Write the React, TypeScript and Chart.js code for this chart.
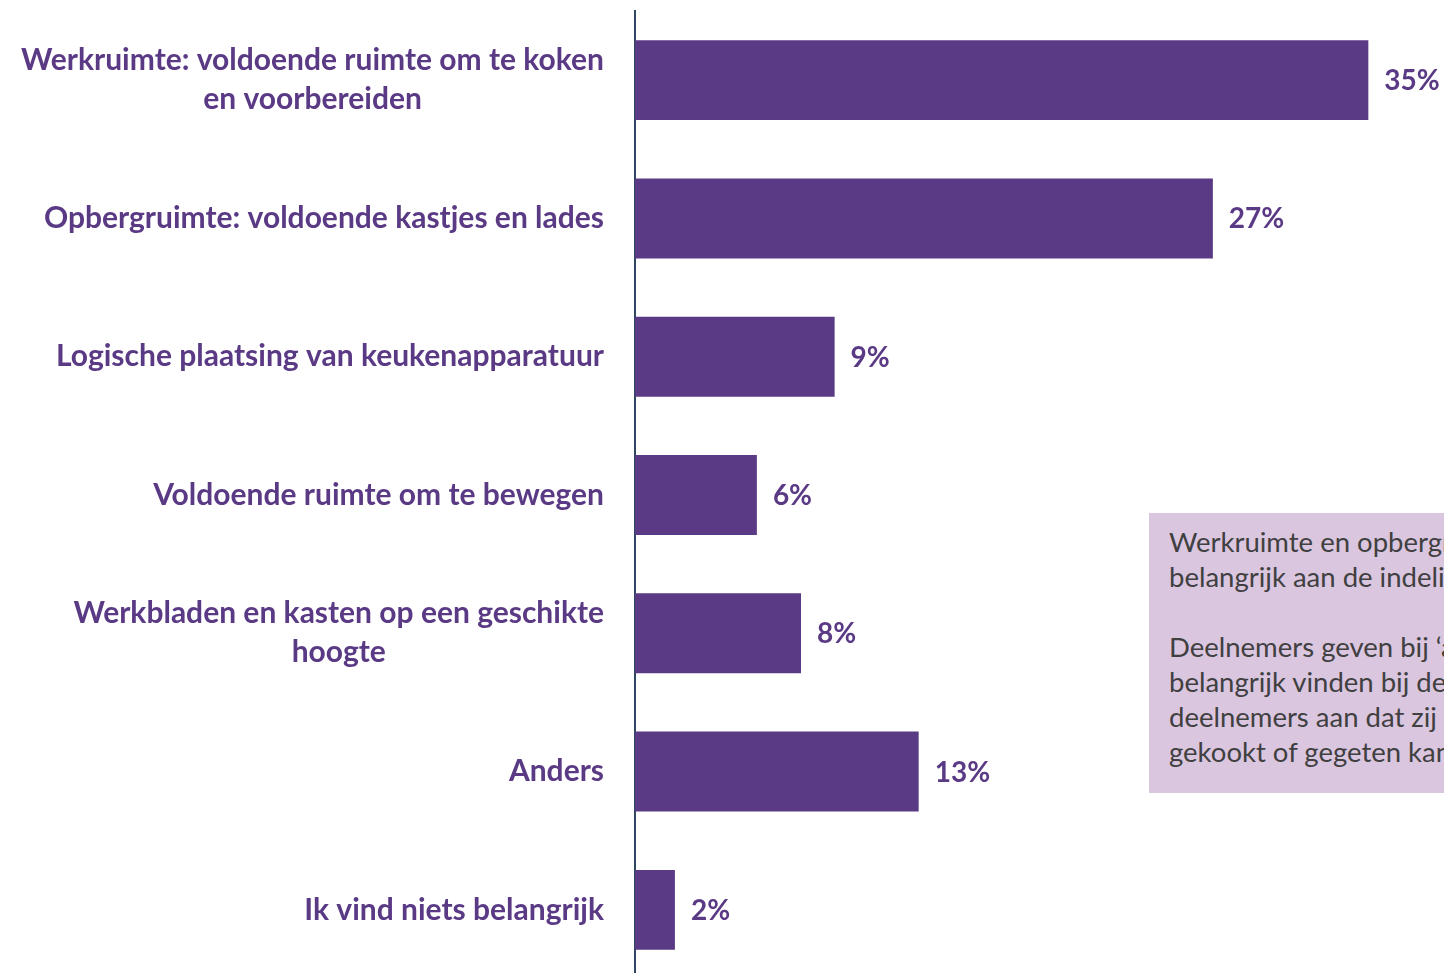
import React, { useEffect, useRef } from "react";
import { Chart, registerables } from "chart.js";

Chart.register(...registerables);

const categories: string[][] = [
  ["Werkruimte: voldoende ruimte om te koken", "en voorbereiden"],
  ["Opbergruimte: voldoende kastjes en lades"],
  ["Logische plaatsing van keukenapparatuur"],
  ["Voldoende ruimte om te bewegen"],
  ["Werkbladen en kasten op een geschikte", "hoogte"],
  ["Anders"],
  ["Ik vind niets belangrijk"],
];
const values: number[] = [34.9, 27.5, 9.5, 5.8, 7.9, 13.5, 1.9];
const valueLabels: string[] = ["35%", "27%", "9%", "6%", "8%", "13%", "2%"];

const calloutParagraphs: string[][] = [
  ["Werkruimte en opbergruimte vinden deelnemers het meest", "belangrijk aan de indeling van de keuken."],
  [
    "Deelnemers geven bij ‘anders’ aan wat zij nog meer",
    "belangrijk vinden bij de indeling. Zo geven enkele",
    "deelnemers aan dat zij het fijn vinden als er in de keuken",
    "gekookt of gegeten kan worden.",
  ],
];

const PURPLE = "#5B3A85";
const FONT = "Lato, 'Open Sans', sans-serif";

export default function App() {
  const ref = useRef<HTMLCanvasElement | null>(null);

  useEffect(() => {
    if (!ref.current) return;
    const labelPlugin = {
      id: "customLabels",
      afterDraw(chart: any) {
        const ctx = chart.ctx;
        const area = chart.chartArea;
        const yScale = chart.scales.y;
        const meta = chart.getDatasetMeta(0);
        ctx.save();
        ctx.fillStyle = PURPLE;
        ctx.font = `bold 30px ${FONT}`;
        ctx.textBaseline = "middle";
        const blockRight = area.left - 31;
        const lineH = 39;
        categories.forEach((lines, i) => {
          const cy = yScale.getPixelForValue(i);
          const maxW = Math.max(...lines.map((l) => ctx.measureText(l).width));
          const cx = blockRight - maxW / 2;
          ctx.textAlign = "center";
          lines.forEach((l, j) => {
            const y = cy + (j - (lines.length - 1) / 2) * lineH;
            ctx.fillText(l, cx, y);
          });
        });
        ctx.font = `bold 28px ${FONT}`;
        ctx.textAlign = "left";
        meta.data.forEach((bar: any, i: number) => {
          ctx.fillText(valueLabels[i], bar.x + 16, bar.y + 1);
        });
        ctx.restore();
      },
    };

    const chart = new Chart(ref.current, {
      type: "bar",
      data: {
        labels: categories.map((c) => c.join(" ")),
        datasets: [
          {
            data: values,
            backgroundColor: PURPLE,
            borderWidth: 0,
            barPercentage: 0.578,
            categoryPercentage: 1,
          },
        ],
      },
      options: {
        indexAxis: "y",
        responsive: false,
        animation: false,
        layout: { padding: { top: 11, bottom: 1, left: 0, right: 0 } },
        plugins: {
          legend: { display: false },
          tooltip: { enabled: false },
          title: { display: false },
        },
        scales: {
          x: { display: false, min: 0, max: 38.5 },
          y: {
            display: true,
            ticks: { display: false },
            grid: { display: false, drawTicks: false },
            border: { display: true, color: "#2E4763", width: 2 },
            afterFit: (s: any) => {
              s.width = 635;
            },
          },
        },
      },
      plugins: [labelPlugin],
    });
    return () => chart.destroy();
  }, []);

  return (
    <div
      style={{
        position: "absolute",
        left: 0,
        top: 0,
        width: 1444,
        height: 973,
        overflow: "hidden",
        background: "#fff",
      }}
    >
      <canvas ref={ref} width={1444} height={980} style={{ position: "absolute", left: 0, top: 0 }} />
      <div
        style={{
          position: "absolute",
          left: 1149,
          top: 513,
          width: 500,
          height: 280,
          background: "#DBC6E0",
          boxSizing: "border-box",
          padding: "11px 0 0 20px",
          fontFamily: FONT,
          fontSize: 27.5,
          lineHeight: "35px",
          color: "#404040",
        }}
      >
        {calloutParagraphs.map((p, i) => (
          <div key={i} style={{ marginBottom: i === 0 ? 35 : 0 }}>
            {p.map((l, j) => (
              <div key={j} style={{ whiteSpace: "nowrap" }}>
                {l}
              </div>
            ))}
          </div>
        ))}
      </div>
    </div>
  );
}
